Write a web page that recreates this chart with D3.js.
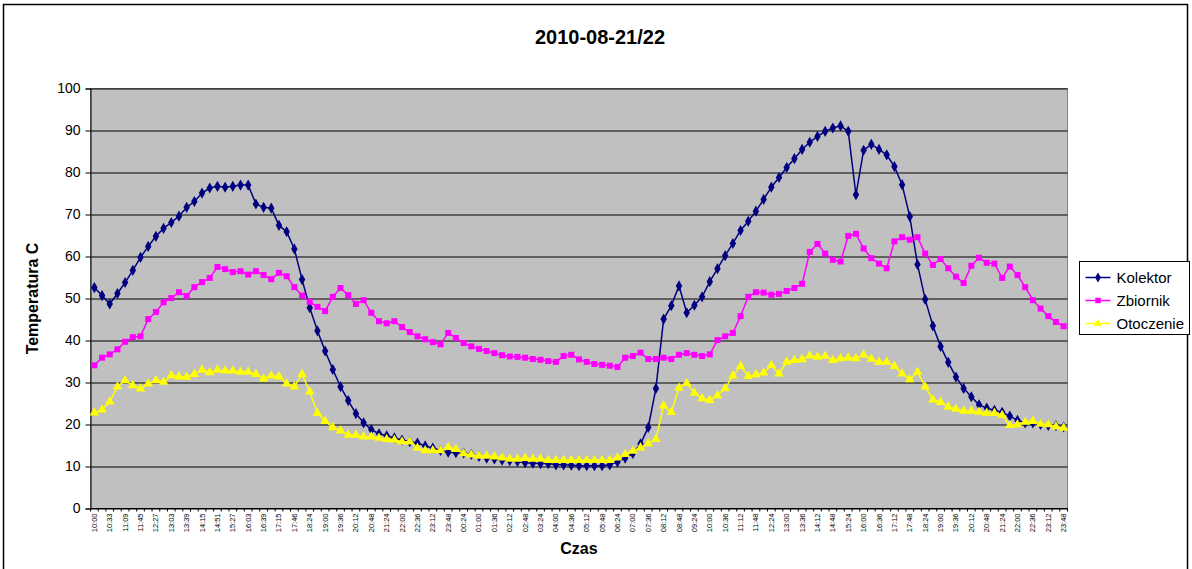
<!DOCTYPE html>
<html>
<head>
<meta charset="utf-8">
<script src="https://cdn.jsdelivr.net/npm/d3@7"></script>
<style>
  body { margin: 0; background: #fff; }
  svg { font-family: "Liberation Sans", Arial, sans-serif; }
</style>
</head>
<body>
<div id="chart"></div>
<script>
// tick labels on the category axis (every second point)
var tickLabels = ["10:00","10:33","11:09","11:45","12:27","13:03","13:39","14:15","14:51","15:27",
  "16:03","16:39","17:15","17:46","18:24","19:00","19:36","20:12","20:48","21:24","22:00","22:36",
  "23:12","23:48","00:24","01:00","01:36","02:12","02:48","03:24","04:00","04:36","05:12","05:48",
  "06:24","07:00","07:36","08:12","08:48","09:24","10:00","10:36","11:12","11:48","12:24","13:00",
  "13:36","14:12","14:48","15:24","16:00","16:36","17:12","17:48","18:24","19:00","19:36","20:12",
  "20:48","21:24","22:00","22:36","23:12","23:48"];

var kolektor = [52.6,50.7,48.7,51.2,53.8,56.7,59.8,62.4,64.8,66.7,68.1,69.6,71.7,73.1,75.1,76.3,76.7,76.5,76.7,77.0,
  77.0,72.5,71.7,71.5,67.4,65.9,61.8,54.5,47.8,42.3,37.5,33.1,29.0,25.7,22.6,20.4,18.8,17.8,17.3,16.8,
  16.3,15.9,15.6,14.9,14.4,13.8,13.4,13.3,13.2,12.9,12.4,12.0,11.8,11.5,11.4,11.2,10.9,10.8,10.7,10.7,
  10.4,10.4,10.3,10.2,10.2,10.2,10.2,10.4,11.1,12.0,13.1,15.4,19.3,28.6,45.1,48.3,53.0,46.6,48.4,50.4,
  54.0,57.1,60.2,63.1,66.2,68.4,70.8,73.6,76.5,78.8,81.2,83.3,85.5,87.2,88.6,89.8,90.6,91.1,89.8,74.7,
  85.3,86.7,85.5,84.2,81.4,77.1,69.5,58.1,49.8,43.5,38.6,34.8,31.3,28.6,26.6,24.7,23.9,23.4,22.9,22.0,
  21.0,20.4,20.4,20.0,19.8,19.7,19.4];

var zbiornik = [34.1,35.9,36.7,37.9,39.7,40.8,41.0,45.1,46.8,49.1,50.1,51.5,50.6,52.7,53.9,54.9,57.5,57.0,56.3,56.5,
  55.7,56.5,55.6,54.6,56.1,55.3,52.7,50.7,49.2,48.0,47.0,50.4,52.5,50.8,48.7,49.6,46.6,44.6,44.1,44.6,
  43.2,42.0,41.0,40.3,39.6,39.1,41.8,40.6,39.4,38.6,38.0,37.5,37.0,36.5,36.2,36.1,35.9,35.6,35.4,35.1,
  34.9,36.3,36.6,35.5,34.9,34.4,34.2,34.0,33.7,35.9,36.3,37.1,35.6,35.6,35.9,35.6,36.6,37.0,36.6,36.3,
  36.7,40.1,41.0,41.8,45.8,50.4,51.5,51.4,50.9,51.1,51.8,52.5,53.5,61.1,63.0,60.7,59.2,58.8,64.9,65.4,
  61.9,59.6,58.3,57.2,63.6,64.6,64.0,64.6,60.7,58.0,59.4,57.2,55.2,53.7,57.8,59.7,58.5,58.3,54.9,57.6,
  55.6,52.7,49.6,47.6,45.8,44.4,43.4];

var otoczenie = [22.8,23.5,25.4,29.0,30.5,29.3,28.5,29.7,30.5,30.1,31.7,31.4,31.3,32.0,33.0,32.4,33.0,32.8,32.8,32.5,
  32.5,32.0,30.9,31.6,31.4,29.7,29.0,32.0,27.8,22.7,20.8,19.3,18.5,17.5,17.5,17.1,17.1,16.8,16.5,16.3,
  15.9,15.9,14.4,13.8,13.8,13.8,14.6,14.1,13.1,12.8,12.5,12.5,12.3,12.1,11.8,11.8,12.0,11.8,11.8,11.5,
  11.5,11.5,11.5,11.5,11.5,11.5,11.5,11.5,12.1,12.9,13.7,14.5,15.4,16.5,24.5,22.9,28.7,29.8,27.5,26.2,
  25.8,26.9,28.6,31.6,33.9,31.5,31.9,32.3,34.1,32.1,34.9,35.3,35.5,36.4,36.1,36.3,35.3,35.7,35.9,35.7,
  36.6,35.6,34.8,34.9,33.9,32.1,30.7,32.5,29.0,25.9,25.3,24.2,23.7,23.2,23.2,23.0,22.7,22.7,22.2,19.8,
  20.0,20.6,20.8,20.1,20.0,19.5,19.2];

var seriesNames = ["Kolektor", "Zbiornik", "Otoczenie"];
var seriesColors = ["#000080", "#FF00FF", "#FFFF00"];
var seriesSymbols = [d3.symbolDiamond, d3.symbolSquare, d3.symbolTriangle];
var yTicks = [0, 10, 20, 30, 40, 50, 60, 70, 80, 90, 100];

var svgWidth = 1192;
var svgHeight = 569;
var margin = { top: 88.5, right: 124.5, bottom: 60.5, left: 90.5 };
var width = svgWidth - margin.left - margin.right;
var height = svgHeight - margin.top - margin.bottom;

var svg = d3.select("#chart")
  .append("svg")
  .attr("width", svgWidth)
  .attr("height", svgHeight);

// outer chart border
svg.append("rect")
  .attr("x", 3.5).attr("y", 4.5)
  .attr("width", 1184).attr("height", 570)
  .attr("fill", "#fff")
  .attr("stroke", "#000").attr("stroke-width", 1.5);

svg.append("text")
  .attr("x", 600).attr("y", 44)
  .attr("text-anchor", "middle")
  .attr("font-size", 20).attr("font-weight", "bold")
  .text("2010-08-21/22");

var chartGroup = svg.append("g")
  .attr("transform", `translate(${margin.left}, ${margin.top})`);

var series = seriesNames.map(function (name, k) {
  return { name: name, color: seriesColors[k], symbol: seriesSymbols[k],
    values: [kolektor, zbiornik, otoczenie][k] };
});

// scales
var xScale = d3.scaleBand()
  .domain(d3.range(kolektor.length))
  .range([0, width]);

var yScale = d3.scaleLinear()
  .domain([0, 100])
  .range([height, 0]);

var cx = i => xScale(i) + xScale.bandwidth() / 2;

// plot area
chartGroup.append("rect")
  .attr("width", width).attr("height", height)
  .attr("fill", "#C0C0C0")
  .attr("stroke", "#808080");

// gridlines
chartGroup.append("g")
  .call(d3.axisLeft(yScale).tickValues(yTicks).tickSize(-width).tickFormat(""))
  .call(g => g.select(".domain").remove())
  .selectAll("line").attr("stroke", "#000");

// y axis
chartGroup.append("g")
  .call(d3.axisLeft(yScale).tickValues(yTicks).tickSize(5).tickPadding(5))
  .call(g => g.selectAll("text").attr("font-size", 14).attr("fill", "#000").attr("font-family", null))
  .call(g => g.select(".domain").attr("stroke", "#000"));

// x axis: tick marks between categories, labels on every second point
var xAxisG = chartGroup.append("g")
  .attr("transform", `translate(0, ${height})`);

xAxisG.append("line")
  .attr("x1", 0).attr("x2", width)
  .attr("stroke", "#000");

xAxisG.selectAll(".cat-tick")
  .data(d3.range(kolektor.length + 1))
  .enter()
  .append("line")
  .attr("class", "cat-tick")
  .attr("x1", i => i < kolektor.length ? xScale(i) : width)
  .attr("x2", i => i < kolektor.length ? xScale(i) : width)
  .attr("y1", 0).attr("y2", 3)
  .attr("stroke", "#000");

xAxisG.selectAll(".cat-label")
  .data(tickLabels)
  .enter()
  .append("text")
  .attr("class", "cat-label")
  .attr("transform", (d, k) => `translate(${cx(k * 2) + 2.5}, 5) rotate(-90)`)
  .attr("text-anchor", "end")
  .attr("font-size", 7.5)
  .text(d => d);

// axis titles
svg.append("text")
  .attr("transform", `translate(38, ${margin.top + height / 2}) rotate(-90)`)
  .attr("text-anchor", "middle")
  .attr("font-size", 16).attr("font-weight", "bold")
  .text("Temperatura C");

svg.append("text")
  .attr("x", margin.left + width / 2).attr("y", 554)
  .attr("text-anchor", "middle")
  .attr("font-size", 16).attr("font-weight", "bold")
  .text("Czas");

// lines and markers
var line = d3.line()
  .x((d, i) => cx(i))
  .y(d => yScale(d));

series.forEach(function (s) {
  chartGroup.append("path")
    .datum(s.values)
    .attr("d", line)
    .attr("fill", "none")
    .attr("stroke", s.color)
    .attr("stroke-width", 1.5);

  chartGroup.selectAll(null)
    .data(s.values)
    .enter()
    .append("path")
    .attr("transform", (d, i) => `translate(${cx(i)}, ${yScale(d)})`)
    .attr("d", d3.symbol().type(s.symbol).size(s.symbol === d3.symbolTriangle ? 40 : 36))
    .attr("fill", s.color);
});

// legend
var legend = svg.append("g")
  .attr("transform", "translate(1079.5, 261.5)");

legend.append("rect")
  .attr("width", 110).attr("height", 73)
  .attr("fill", "#fff")
  .attr("stroke", "#000");

var items = legend.selectAll(".item")
  .data(series)
  .enter()
  .append("g")
  .attr("transform", (d, k) => `translate(0, ${16 + k * 23})`);

items.append("line")
  .attr("x1", 6).attr("x2", 31)
  .attr("stroke", d => d.color)
  .attr("stroke-width", 1.5);

items.append("path")
  .attr("transform", "translate(18.5, 0)")
  .attr("d", d => d3.symbol().type(d.symbol).size(30)())
  .attr("fill", d => d.color);

items.append("text")
  .attr("x", 37).attr("dy", "0.35em")
  .attr("font-size", 15)
  .text(d => d.name);
</script>
</body>
</html>
